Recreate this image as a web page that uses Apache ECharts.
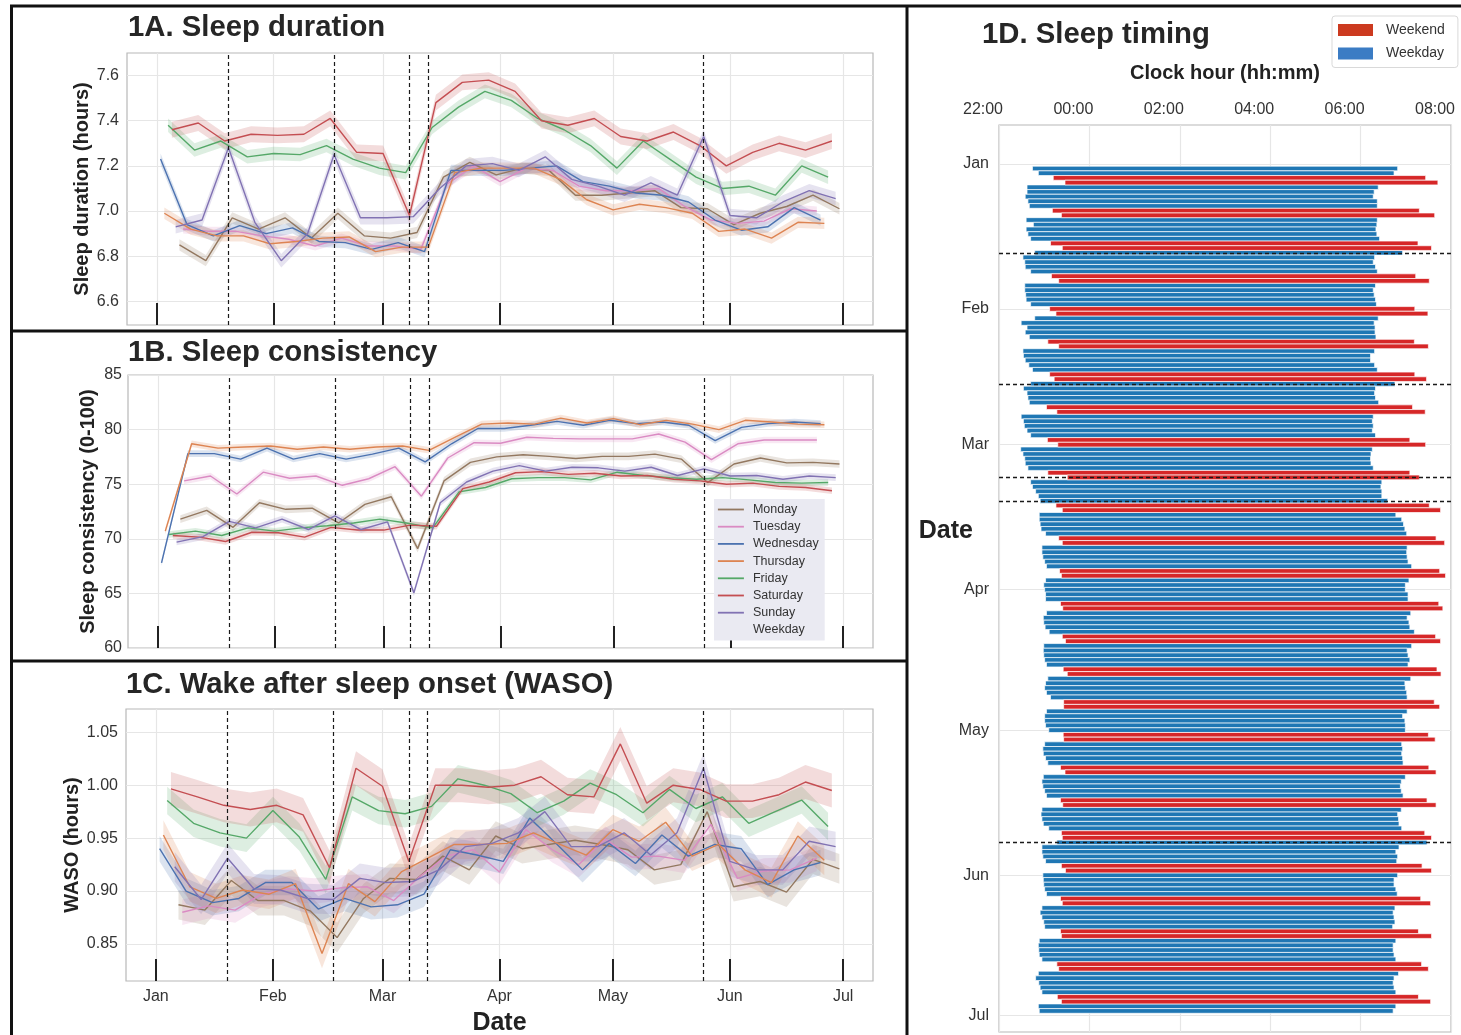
<!DOCTYPE html>
<html>
<head>
<meta charset="utf-8">
<title>Sleep metrics 2020</title>
<script src="https://cdn.jsdelivr.net/npm/echarts@6.0.0/dist/echarts.min.js"></script>
<style>
html,body{margin:0;padding:0;background:#ffffff;}
#chart{width:1461px;height:1035px;}
</style>
</head>
<body>
<div id="chart"></div>
<script>
// ================= DATA (days counted from 1 Jan 2020) =================
const dayNames  = ['Monday','Tuesday','Wednesday','Thursday','Friday','Saturday','Sunday'];
const dayColors = ['#937860','#DA8BC3','#4C72B0','#DD8452','#55A868','#C44E52','#8172B3'];
const firstDay  = [6, 7, 1, 2, 3, 4, 5];          // first weekly point of each series
const monthStarts = [0, 31, 60, 91, 121, 152, 182];
const monthLabels = ['Jan','Feb','Mar','Apr','May','Jun','Jul'];
const eventDays = [19, 47, 67, 72, 145];           // dashed reference dates

// 1A. Sleep duration (hours)
const durMon = [6.85,6.78,6.97,6.92,6.97,6.88,6.99,6.89,6.88,6.905,7.15,7.215,7.16,7.19,7.18,7.07,7.07,7.08,7.09,7.015,7.01,6.94,6.99,7.02,7.07,7.01];
const durTue = [6.92,6.91,6.91,6.89,6.875,6.845,6.88,6.845,6.845,6.83,7.12,7.20,7.13,7.19,7.18,7.11,7.09,7.09,7.10,7.02,6.96,6.945,6.955,7.01,7.00];
const durWed = [7.23,6.94,6.89,6.935,6.90,6.925,6.865,6.86,6.83,6.86,6.82,7.18,7.18,7.18,7.19,7.20,7.13,7.11,7.08,7.07,7.04,6.96,6.915,6.93,7.015,6.96];
const durThu = [6.99,6.92,6.89,6.89,6.855,6.865,6.88,6.885,6.82,6.84,6.84,7.17,7.19,7.19,7.19,7.14,7.05,7.005,7.03,7.015,6.99,6.91,6.92,6.88,6.95,6.945];
const durFri = [7.38,7.27,7.31,7.24,7.255,7.25,7.29,7.23,7.19,7.17,7.37,7.46,7.53,7.49,7.41,7.36,7.29,7.19,7.31,7.23,7.15,7.10,7.11,7.07,7.20,7.15];
const durSat = [7.36,7.39,7.31,7.34,7.335,7.34,7.41,7.26,7.255,6.98,7.48,7.57,7.58,7.53,7.40,7.38,7.41,7.33,7.31,7.35,7.29,7.20,7.26,7.30,7.27,7.31];
const durSun = [6.93,6.96,7.28,6.95,6.78,6.90,7.25,6.97,6.97,6.975,7.10,7.20,7.21,7.18,7.24,7.14,7.11,7.07,7.125,7.07,7.33,6.98,6.97,7.04,7.09,7.055];
const durCI  = [0.025,0.02,0.025,0.025,0.03,0.035,0.03];

// 1B. Sleep consistency (0-100)
const conMon = [71.8,72.6,71.05,73.3,72.7,72.8,71.45,73.15,73.85,69.1,75.3,77.0,77.5,77.7,77.55,77.35,77.55,77.55,77.75,77.3,75.15,76.85,77.4,76.95,77.0,76.85];
const conTue = [75.3,75.75,74.1,76.1,75.55,75.75,74.9,75.5,76.6,73.9,77.4,78.8,78.75,79.3,79.2,79.15,79.15,79.15,79.6,78.85,77.25,78.7,79.05,79.05,79.05];
const conWed = [67.8,77.8,77.8,77.3,78.3,77.3,77.8,77.3,77.75,78.3,77.05,78.7,80.1,80.1,80.4,80.75,80.4,80.85,80.55,80.7,80.4,79.0,80.2,80.55,80.7,80.55];
const conThu = [70.7,78.7,78.3,78.4,78.5,78.2,78.4,78.2,78.4,78.5,78.1,79.3,80.5,80.6,80.5,81.05,80.6,81.0,80.45,80.85,80.5,80.0,80.85,80.7,80.5,80.45];
const conFri = [70.4,70.7,70.3,71.0,70.7,71.0,71.2,71.45,71.8,71.45,71.0,74.3,74.7,75.5,75.6,75.6,75.4,76.1,75.8,75.6,75.45,75.6,75.4,75.15,75.1,75.15];
const conSat = [70.3,70.15,69.75,70.6,70.55,70.15,71.05,70.8,70.8,71.25,71.15,74.6,75.2,76.05,76.15,75.9,76.0,75.75,75.8,75.45,75.3,75.0,75.1,74.8,74.7,74.4];
const conSun = [69.7,70.2,71.6,71.0,71.8,70.85,72.1,70.85,71.55,65.05,73.3,75.2,76.2,76.7,76.2,76.55,76.5,76.2,76.55,75.8,76.4,75.75,75.8,75.45,75.75,75.6];
const conCI  = [0.35,0.3,0.3,0.3,0.3,0.3,0.3];

// 1C. Wake after sleep onset (hours)
const wasoMon = [0.887,0.882,0.910,0.891,0.891,0.881,0.856,0.893,0.912,0.911,0.933,0.920,0.952,0.940,0.944,0.948,0.944,0.939,0.920,0.925,0.975,0.904,0.909,0.899,0.930,0.921];
const wasoTue = [0.880,0.886,0.882,0.897,0.902,0.900,0.903,0.904,0.891,0.914,0.933,0.939,0.918,0.958,0.939,0.925,0.949,0.932,0.933,0.929,0.963,0.912,0.919,0.920,0.931];
const wasoWed = [0.940,0.900,0.889,0.893,0.908,0.908,0.883,0.893,0.885,0.887,0.897,0.939,0.934,0.928,0.969,0.945,0.920,0.945,0.926,0.953,0.933,0.944,0.940,0.906,0.920,0.927];
const wasoThu = [0.953,0.904,0.893,0.901,0.897,0.907,0.841,0.907,0.890,0.918,0.931,0.944,0.944,0.945,0.955,0.944,0.934,0.958,0.947,0.965,0.933,0.944,0.920,0.908,0.952,0.929];
const wasoFri = [0.9855,0.964,0.955,0.950,0.976,0.951,0.911,0.989,0.976,0.973,0.980,1.006,1.000,0.992,0.974,0.985,1.002,0.991,0.974,0.996,0.978,0.989,0.964,0.975,0.986,0.961];
const wasoSat = [0.9965,0.989,0.981,0.977,0.981,0.972,0.922,1.016,0.999,0.928,1.000,1.000,0.998,1.000,1.008,0.991,0.989,1.039,0.983,1.000,0.996,0.985,0.985,0.991,1.003,0.995];
const wasoSun = [0.923,0.892,0.931,0.902,0.901,0.893,0.892,0.912,0.908,0.909,0.920,0.942,0.945,0.955,0.975,0.942,0.942,0.955,0.934,0.955,1.016,0.928,0.920,0.920,0.947,0.942];
const wasoCI  = [0.014,0.012,0.012,0.014,0.013,0.016,0.014];

// 1D. Sleep timing: nights dated 2 Jan .. 30 Jun (hours from midnight, negative = before midnight)
const onsetHours = [
-1.26,-1.13,-0.80,-0.54,-1.38,-1.38,-1.42,-1.36,-1.33,-0.82,
-0.62,-1.40,-1.24,-1.40,-1.36,-1.30,-0.86,-0.60,-1.21,-1.47,
-1.43,-1.42,-1.30,-0.84,-0.68,-1.43,-1.43,-1.41,-1.40,-1.30,
-0.88,-0.74,-1.21,-1.51,-1.38,-1.42,-1.33,-0.92,-0.68,-1.47,
-1.46,-1.42,-1.34,-1.26,-0.88,-0.78,-1.30,-1.46,-1.38,-1.36,
-1.33,-0.95,-0.72,-1.51,-1.46,-1.44,-1.38,-1.30,-0.93,-0.70,
-1.52,-1.47,-1.43,-1.42,-1.36,-0.92,-0.49,-1.30,-1.26,-1.19,
-1.13,-1.09,-0.74,-0.60,-1.11,-1.11,-1.09,-1.07,-0.97,-0.68,
-0.60,-1.05,-1.05,-1.03,-0.99,-0.95,-0.66,-0.62,-0.97,-1.01,
-0.99,-0.97,-0.97,-0.64,-0.59,-0.95,-1.02,-1.01,-0.98,-0.89,
-0.60,-0.53,-1.01,-1.02,-1.01,-0.99,-0.95,-0.58,-0.49,-0.92,
-0.97,-0.99,-0.95,-0.86,-0.57,-0.57,-0.95,-0.99,-0.99,-0.97,
-0.90,-0.58,-0.57,-0.99,-1.03,-1.02,-0.97,-0.92,-0.64,-0.54,
-1.02,-1.05,-1.03,-0.99,-0.95,-0.64,-0.59,-1.05,-1.07,-1.05,
-1.02,-0.90,-0.62,-0.60,-0.72,-1.05,-1.05,-1.03,-0.97,-0.62,
-0.53,-1.03,-1.02,-1.01,-0.99,-0.95,-0.64,-0.60,-1.05,-1.09,
-1.05,-1.01,-0.99,-0.64,-0.62,-1.11,-1.13,-1.12,-1.11,-1.05,
-0.72,-0.68,-1.13,-1.19,-1.12,-1.09,-1.05,-0.71,-0.62,-1.13,-1.11];
const wakeHours = [
6.82,6.74,7.44,7.71,6.39,6.30,6.28,6.37,6.37,7.30,
7.64,6.37,6.36,6.34,6.36,6.42,7.27,7.57,6.93,6.31,
6.28,6.33,6.37,7.22,7.52,6.33,6.28,6.30,6.33,6.35,
7.20,7.49,6.39,6.30,6.32,6.32,6.34,7.19,7.50,6.31,
6.22,6.22,6.31,6.37,7.20,7.46,6.76,6.33,6.31,6.33,
6.40,7.15,7.43,6.28,6.26,6.28,6.26,6.33,7.09,7.44,
6.26,6.23,6.22,6.23,6.28,7.09,7.30,6.47,6.45,6.47,
6.47,6.60,7.52,7.77,6.78,6.91,6.95,6.98,7.02,7.67,
7.86,7.03,7.02,7.03,7.05,7.13,7.75,7.88,7.07,6.99,
6.99,7.05,7.05,7.73,7.82,7.11,7.03,7.07,7.09,7.19,
7.66,7.77,7.13,7.03,7.05,7.09,7.05,7.69,7.78,7.11,
6.98,6.99,7.02,7.03,7.63,7.75,7.03,6.93,6.98,6.99,
6.99,7.50,7.65,6.91,6.93,6.91,6.93,6.94,7.51,7.67,
6.99,6.90,6.88,6.90,6.94,7.47,7.67,6.90,6.82,6.84,
6.85,6.91,7.42,7.57,7.47,6.85,6.78,6.82,6.80,7.36,
7.57,6.82,6.74,6.74,6.78,6.81,7.33,7.55,6.76,6.72,
6.74,6.76,6.71,7.28,7.57,6.78,6.72,6.72,6.74,6.78,
7.35,7.50,6.84,6.74,6.72,6.74,6.78,7.28,7.55,6.78,6.72];

// ================= CHART =================
const FONT = "'Liberation Sans', Arial, Helvetica, sans-serif";
const TXT = '#333333';
const GRIDLINE = '#E6E6E6';
const FRAME = '#B8B8B8';
const X_MIN = -7.9, X_MAX = 189.9;

function weeklyDays(first, n) { const out = []; for (let k = 0; k < n; k++) out.push(first + 7 * k); return out; }

function lineAndBand(panel, di, values, ci) {
  const xs = weeklyDays(firstDay[di], values.length);
  const color = dayColors[di];
  const pts = xs.map((x, i) => [x, values[i] - ci, values[i] + ci]);
  const band = {
    type: 'custom', name: 'band-' + panel + '-' + dayNames[di],
    xAxisIndex: panel, yAxisIndex: panel, silent: true, z: 2,
    data: pts, encode: { x: 0, y: [1, 2] },
    renderItem: function (params, api) {
      if (params.dataIndex !== 0) return null;
      const up = pts.map(p => api.coord([p[0], p[2]]));
      const dn = pts.map(p => api.coord([p[0], p[1]])).reverse();
      return { type: 'polygon', shape: { points: up.concat(dn) }, style: { fill: color, opacity: 0.2 } };
    }
  };
  const line = {
    type: 'line', name: dayNames[di], xAxisIndex: panel, yAxisIndex: panel,
    data: xs.map((x, i) => [x, values[i]]), symbol: 'none', showSymbol: false,
    lineStyle: { color: color, width: 1.4 }, itemStyle: { color: color }, z: 3, silent: true
  };
  return [band, line];
}

const panelsData = [
  { vals: [durMon, durTue, durWed, durThu, durFri, durSat, durSun], ci: durCI },
  { vals: [conMon, conTue, conWed, conThu, conFri, conSat, conSun], ci: conCI },
  { vals: [wasoMon, wasoTue, wasoWed, wasoThu, wasoFri, wasoSat, wasoSun], ci: wasoCI }
];

const series = [];
panelsData.forEach((p, pi) => {
  p.vals.forEach((v, di) => {
    const pair = lineAndBand(pi, di, v, p.ci[di]);
    if (di === 0) {
      pair[1].markLine = {
        silent: true, symbol: ['none', 'none'], label: { show: false },
        lineStyle: { color: '#1a1a1a', width: 1.2, type: [4, 3] },
        emphasis: { disabled: true },
        data: eventDays.map(d => ({ xAxis: d }))
      };
    }
    series.push(pair[0], pair[1]);
  });
});
series.push({ type: 'line', name: 'Weekday ', xAxisIndex: 1, yAxisIndex: 1, data: [], symbol: 'none',
  lineStyle: { color: 'rgba(0,0,0,0)' }, itemStyle: { color: 'rgba(0,0,0,0)' } });

// sleep timing bars
const weekdayBars = [], weekendBars = [];
onsetHours.forEach((s, i) => {
  const d = i + 1;
  const item = [d, s, wakeHours[i]];
  if (d % 7 === 3 || d % 7 === 4) weekendBars.push(item); else weekdayBars.push(item);
});
function renderNight(params, api) {
  const d = api.value(0);
  const a = api.coord([api.value(1), d]);
  const b = api.coord([api.value(2), d]);
  const h = api.size([0, 1])[1];
  return { type: 'rect', shape: { x: a[0], y: a[1] - h / 2, width: b[0] - a[0], height: h },
    style: { fill: api.visual('color'), stroke: '#ffffff', lineWidth: 0.7 } };
}
series.push({
  type: 'custom', name: 'Weekday', xAxisIndex: 3, yAxisIndex: 3, data: weekdayBars,
  encode: { x: [1, 2], y: 0 }, itemStyle: { color: '#1F77B4' }, renderItem: renderNight, z: 2,
  markLine: {
    silent: true, symbol: ['none', 'none'], label: { show: false }, z: 6,
    lineStyle: { color: '#1a1a1a', width: 1.3, type: [4, 3] }, emphasis: { disabled: true },
    data: eventDays.map(d => ({ yAxis: d }))
  }
});
series.push({
  type: 'custom', name: 'Weekend', xAxisIndex: 3, yAxisIndex: 3, data: weekendBars,
  encode: { x: [1, 2], y: 0 }, itemStyle: { color: '#D62728' }, renderItem: renderNight, z: 2
});

function dayAxis(gi, showLabels) {
  return {
    type: 'value', gridIndex: gi, min: X_MIN, max: X_MAX,
    axisLine: { show: false },
    axisTick: { show: true, inside: true, length: 22, customValues: monthStarts,
      lineStyle: { color: '#222222', width: 2 } },
    axisLabel: { show: showLabels, customValues: monthStarts, fontSize: 16, color: TXT, margin: 8,
      fontFamily: FONT, formatter: v => monthLabels[monthStarts.indexOf(v)] || '' },
    splitLine: { show: true, lineStyle: { color: GRIDLINE, width: 1.2 } },
    name: showLabels ? 'Date' : '', nameLocation: 'middle', nameGap: 30, nameMoveOverlap: false,
    nameTextStyle: { fontSize: 25, fontWeight: 'bold', color: '#222222', fontFamily: FONT, verticalAlign: 'top' }
  };
}
function valueYAxis(gi, cfg) {
  const ax = {
    type: 'value', gridIndex: gi, min: cfg.min, max: cfg.max,
    axisLine: { show: false }, axisTick: { show: false },
    axisLabel: { fontSize: 16, color: TXT, margin: cfg.margin, fontFamily: FONT, formatter: cfg.fmt },
    splitLine: { show: true, lineStyle: { color: GRIDLINE, width: 1.2 } },
    name: cfg.name, nameLocation: 'middle', nameRotate: 90, nameGap: cfg.gap, nameMoveOverlap: false,
    nameTextStyle: { fontSize: 20, fontWeight: 'bold', color: '#222222', fontFamily: FONT }
  };
  if (cfg.interval) ax.interval = cfg.interval;
  if (cfg.ticks) { ax.axisTick.customValues = cfg.ticks; ax.axisLabel.customValues = cfg.ticks; }
  return ax;
}

const titleStyle = { fontSize: 29.3, fontWeight: 'bold', color: '#262626', fontFamily: FONT };
const option = {
  animation: false,
  backgroundColor: '#ffffff',
  textStyle: { fontFamily: FONT },
  title: [
    { text: '1A. Sleep duration', left: 128, top: 13, padding: 0, textStyle: titleStyle },
    { text: '1B. Sleep consistency', left: 128, top: 338, padding: 0, textStyle: titleStyle },
    { text: '1C. Wake after sleep onset (WASO)', left: 126, top: 670, padding: 0, textStyle: titleStyle },
    { text: '1D. Sleep timing', left: 982, top: 20, padding: 0, textStyle: titleStyle }
  ],
  legend: [
    {
      data: dayNames.concat(['Weekday ']), orient: 'vertical', left: 714, top: 499,
      itemWidth: 26, itemHeight: 14, itemGap: 4.2, padding: [4, 6, 4, 3],
      backgroundColor: '#EAEAF2', selectedMode: false,
      itemStyle: { opacity: 0 }, lineStyle: { width: 1.8 },
      textStyle: { fontSize: 12.5, color: TXT, fontFamily: FONT, padding: [0, 0, 0, 4] }
    },
    {
      data: [{ name: 'Weekend', itemStyle: { color: '#CC3A1F' } }, { name: 'Weekday', itemStyle: { color: '#3B7CC4' } }],
      orient: 'vertical', left: 1332, top: 16,
      icon: 'rect', itemWidth: 35, itemHeight: 12, itemGap: 9.5, padding: [7, 13, 7, 6],
      backgroundColor: 'rgba(255,255,255,0.9)', borderColor: '#D9D9D9', borderWidth: 1, borderRadius: 3,
      selectedMode: false,
      textStyle: { fontSize: 14, color: TXT, fontFamily: FONT, padding: [0, 0, 0, 8] }
    }
  ],
  grid: [
    { left: 127, top: 53, width: 746, height: 272, show: true, borderColor: FRAME, borderWidth: 1.2, backgroundColor: '#fff', outerBoundsMode: 'none' },
    { left: 128, top: 375, width: 745, height: 273, show: true, borderColor: FRAME, borderWidth: 1.2, backgroundColor: '#fff', outerBoundsMode: 'none' },
    { left: 126, top: 709, width: 747, height: 272, show: true, borderColor: FRAME, borderWidth: 1.2, backgroundColor: '#fff', outerBoundsMode: 'none' },
    { left: 999, top: 125, width: 452, height: 907, show: true, borderColor: FRAME, borderWidth: 1.2, backgroundColor: '#fff', outerBoundsMode: 'none' }
  ],
  xAxis: [
    dayAxis(0, false), dayAxis(1, false), dayAxis(2, true),
    {
      type: 'value', gridIndex: 3, position: 'top', min: -2, max: 8, interval: 2,
      axisLine: { show: false }, axisTick: { show: false },
      axisLabel: { fontSize: 16, color: TXT, margin: 7, fontFamily: FONT, padding: [0, 32, 0, 0],
        formatter: v => String(((v % 24) + 24) % 24).padStart(2, '0') + ':00' },
      splitLine: { show: true, lineStyle: { color: GRIDLINE, width: 1.2 } },
      name: 'Clock hour (hh:mm)', nameLocation: 'middle', nameGap: 42, nameMoveOverlap: false,
      nameTextStyle: { fontSize: 20, fontWeight: 'bold', color: '#222222', fontFamily: FONT }
    }
  ],
  yAxis: [
    valueYAxis(0, { min: 6.495, max: 7.7, ticks: [6.6, 6.8, 7.0, 7.2, 7.4, 7.6], fmt: v => v.toFixed(1), margin: 8, name: 'Sleep duration (hours)', gap: 35 }),
    valueYAxis(1, { min: 60, max: 85, interval: 5, fmt: v => String(v), margin: 6, name: 'Sleep consistency (0-100)', gap: 30 }),
    valueYAxis(2, { min: 0.815, max: 1.072, ticks: [0.85, 0.9, 0.95, 1.0, 1.05], fmt: v => v.toFixed(2), margin: 8, name: 'WASO (hours)', gap: 44 }),
    {
      type: 'value', gridIndex: 3, inverse: true, min: -8.3, max: 185.5,
      axisLine: { show: false }, axisTick: { show: false, customValues: monthStarts },
      axisLabel: { customValues: monthStarts, fontSize: 16, color: TXT, margin: 10, fontFamily: FONT,
        formatter: v => monthLabels[monthStarts.indexOf(v)] || '' },
      splitLine: { show: true, lineStyle: { color: GRIDLINE, width: 1.2 } }
    }
  ],
  series: series,
  graphic: [
    { type: 'line', silent: true, shape: { x1: 10, y1: 6, x2: 1461, y2: 6 }, style: { stroke: '#111', lineWidth: 3 } },
    { type: 'line', silent: true, shape: { x1: 11.5, y1: 6, x2: 11.5, y2: 1035 }, style: { stroke: '#111', lineWidth: 3 } },
    { type: 'line', silent: true, shape: { x1: 907, y1: 6, x2: 907, y2: 1035 }, style: { stroke: '#111', lineWidth: 3 } },
    { type: 'line', silent: true, shape: { x1: 11, y1: 331, x2: 907, y2: 331 }, style: { stroke: '#111', lineWidth: 3 } },
    { type: 'line', silent: true, shape: { x1: 11, y1: 661, x2: 907, y2: 661 }, style: { stroke: '#111', lineWidth: 3 } },
    { type: 'text', silent: true, x: 973, y: 531,
      style: { text: 'Date', fill: '#222222', font: "bold 25px 'Liberation Sans', Arial, sans-serif", align: 'right', verticalAlign: 'middle' } }
  ]
};

const chart = echarts.init(document.getElementById('chart'), null, { renderer: 'canvas', width: 1461, height: 1035 });
chart.setOption(option);
</script>
</body>
</html>
